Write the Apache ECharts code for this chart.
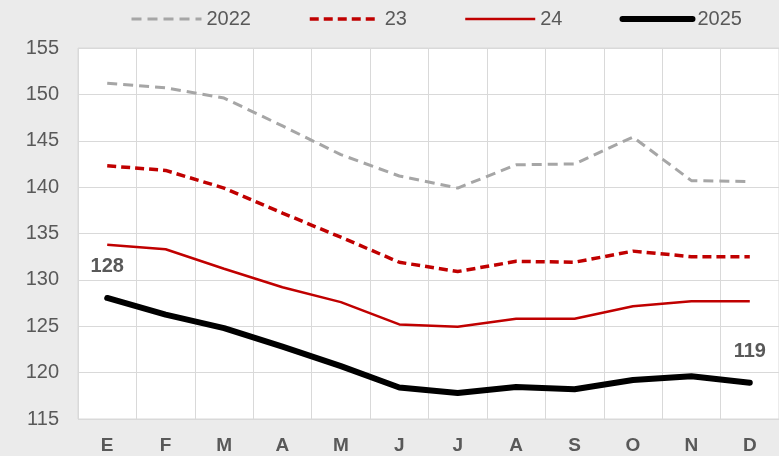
<!DOCTYPE html>
<html>
<head>
<meta charset="utf-8">
<script src="https://cdn.jsdelivr.net/npm/echarts@6/dist/echarts.min.js"></script>
<style>
  html, body { margin: 0; padding: 0; background: #ebebeb; }
  #chart { width: 779px; height: 456px; }
</style>
</head>
<body>
<div id="chart"></div>
<script>
// Month initials (Spanish)
const months = ['E', 'F', 'M', 'A', 'M', 'J', 'J', 'A', 'S', 'O', 'N', 'D'];

// Series names in legend order
const seriesNames = ['2022', '23', '24', '2025'];

// Monthly values per year
const y2022 = [151.2, 150.7, 149.6, 146.6, 143.5, 141.2, 139.9, 142.4, 142.5, 145.4, 140.7, 140.6];
const y2023 = [142.3, 141.8, 139.9, 137.2, 134.6, 131.9, 130.9, 132.0, 131.9, 133.1, 132.5, 132.5];
const y2024 = [133.8, 133.3, 131.2, 129.2, 127.6, 125.2, 124.95, 125.8, 125.8, 127.15, 127.7, 127.7];
const y2025 = [128.05, 126.25, 124.8, 122.8, 120.7, 118.4, 117.8, 118.45, 118.2, 119.2, 119.6, 118.9];

// Y-axis range and step
const yMin = 115, yMax = 155, yStep = 5;

const textGray = '#595959';
const gridGray = '#d9d9d9';
const fontFamily = 'Liberation Sans, Arial, sans-serif';

const lineStyles = [
  { color: '#a6a6a6', width: 3, type: [10, 6] },
  { color: '#c00000', width: 3.5, type: [9, 5] },
  { color: '#c00000', width: 2.5, type: 'solid' },
  { color: '#000000', width: 6, type: 'solid', cap: 'round', join: 'round' }
];

// Only the first and last points of 2025 carry a value label
const y2025Data = y2025.map((v, i) => {
  const labelled = i === 0 || i === y2025.length - 1;
  if (!labelled) return v;
  return {
    value: v,
    symbol: 'circle',
    symbolSize: 2,
    label: {
      show: true,
      position: 'top',
      distance: 20,
      color: textGray,
      fontSize: 20,
      fontWeight: 'bold',
      fontFamily: fontFamily,
      formatter: p => String(Math.round(p.value))
    }
  };
});

const seriesData = [y2022, y2023, y2024, y2025Data];

const chart = echarts.init(document.getElementById('chart'), null, { renderer: 'canvas' });

chart.setOption({
  backgroundColor: '#ebebeb',
  animation: false,
  textStyle: { fontFamily: fontFamily },
  legend: {
    left: 130,
    top: 9,
    padding: 0,
    itemWidth: 70,
    itemHeight: 18,
    itemGap: 57,
    itemStyle: { opacity: 0 },
    textStyle: { color: textGray, fontSize: 20 },
    data: seriesNames.map((name, i) => ({
      name: name,
      lineStyle: Object.assign({}, lineStyles[i]),
      itemStyle: { opacity: 0 }
    }))
  },
  grid: {
    left: 78,
    right: 0,
    top: 48,
    bottom: 37,
    show: true,
    backgroundColor: '#ffffff',
    borderColor: gridGray,
    borderWidth: 1
  },
  xAxis: {
    type: 'category',
    data: months,
    boundaryGap: true,
    axisLine: { show: false },
    axisTick: { show: false },
    axisLabel: {
      color: textGray,
      fontSize: 19,
      fontWeight: 'bold',
      margin: 17
    },
    splitLine: { show: true, interval: 0, lineStyle: { color: gridGray, width: 1 } }
  },
  yAxis: {
    type: 'value',
    min: yMin,
    max: yMax,
    interval: yStep,
    axisLine: { show: false },
    axisTick: { show: false },
    axisLabel: { color: textGray, fontSize: 20, margin: 19 },
    splitLine: { show: true, lineStyle: { color: gridGray, width: 1 } }
  },
  series: seriesNames.map((name, i) => ({
    name: name,
    type: 'line',
    data: seriesData[i],
    symbol: 'none',
    z: 2 + i,
    lineStyle: lineStyles[i],
    itemStyle: { color: lineStyles[i].color }
  }))
});
</script>
</body>
</html>
